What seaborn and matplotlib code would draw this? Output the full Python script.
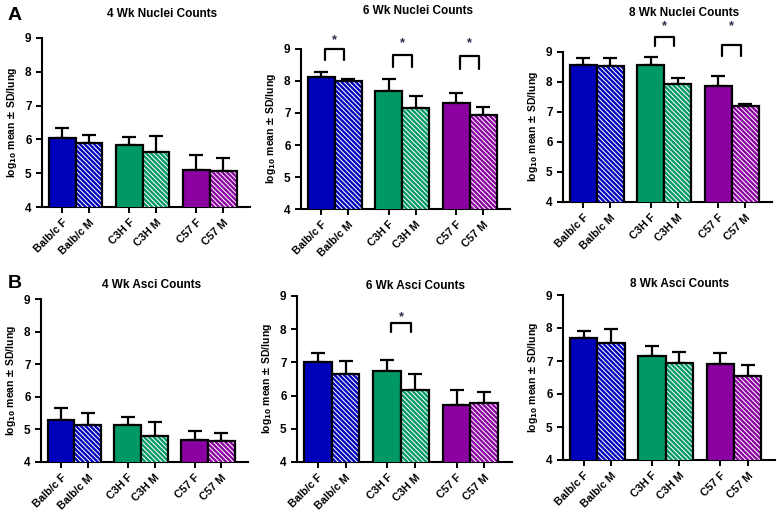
import numpy as np
import pandas as pd
import matplotlib
matplotlib.use("Agg")
import matplotlib.pyplot as plt
import matplotlib.colors as mcolors
import seaborn as sns

# groups / x layout
labels = ["Balb/c F", "Balb/c M", "C3H F", "C3H M", "C57 F", "C57 M"]
positions = [0, 1, 2.5, 3.5, 5, 6]
bar_colors = ["#0000BB", "#0000BB", "#009966", "#009966", "#8A00A0", "#8A00A0"]

# log10 mean and SD per panel
nuc4_mean = [6.04, 5.89, 5.84, 5.62, 5.08, 5.07]
nuc4_sd = [0.30, 0.25, 0.22, 0.47, 0.45, 0.38]
nuc6_mean = [8.14, 8.00, 7.70, 7.15, 7.31, 6.93]
nuc6_sd = [0.14, 0.07, 0.36, 0.39, 0.33, 0.26]
nuc8_mean = [8.58, 8.52, 8.58, 7.94, 7.86, 7.19]
nuc8_sd = [0.22, 0.28, 0.25, 0.19, 0.33, 0.09]
asci4_mean = [5.28, 5.14, 5.14, 4.81, 4.68, 4.65]
asci4_sd = [0.37, 0.36, 0.24, 0.43, 0.27, 0.24]
asci6_mean = [7.02, 6.64, 6.74, 6.16, 5.73, 5.78]
asci6_sd = [0.27, 0.40, 0.33, 0.48, 0.45, 0.32]
asci8_mean = [7.69, 7.56, 7.15, 6.93, 6.90, 6.55]
asci8_sd = [0.23, 0.41, 0.30, 0.35, 0.33, 0.33]

# significance brackets: (pair index, bracket top, leg bottom, star y)
nuc6_sig = [(0, 9.01, 8.67, 9.27), (1, 8.82, 8.44, 9.19), (2, 8.77, 8.37, 9.19)]
nuc8_sig = [(1, 9.50, 9.19, 9.86), (2, 9.24, 8.86, 9.86)]
asci6_sig = [(1, 8.20, 7.92, 8.37)]

W, H = 777, 518
sns.set_style("ticks")
plt.rcParams["font.family"] = ["Liberation Sans", "DejaVu Sans"]
plt.rcParams["font.weight"] = "bold"
plt.rcParams["axes.labelweight"] = "bold"
plt.rcParams["hatch.linewidth"] = 0.75
plt.rcParams["mathtext.default"] = "bf"
for k in ["text.color", "axes.labelcolor", "xtick.color", "ytick.color", "axes.edgecolor"]:
    plt.rcParams[k] = "black"

fig = plt.figure(figsize=(W / 100, H / 100), dpi=100)

# panel boxes in pixels: left, right, top, bottom, title center x, title y
panels = [
    ("4 Wk Nuclei Counts", nuc4_mean, nuc4_sd, [], (42, 250, 38, 207), (162, 14)),
    ("6 Wk Nuclei Counts", nuc6_mean, nuc6_sd, nuc6_sig, (301, 510, 49, 209), (418, 11)),
    ("8 Wk Nuclei Counts", nuc8_mean, nuc8_sd, nuc8_sig, (563, 772, 52, 202), (684, 13)),
    ("4 Wk Asci Counts", asci4_mean, asci4_sd, [], (41, 248, 299, 462), (152, 285)),
    ("6 Wk Asci Counts", asci6_mean, asci6_sd, asci6_sig, (297, 512, 296, 462), (415, 286)),
    ("8 Wk Asci Counts", asci8_mean, asci8_sd, [], (563, 775, 295, 460), (680, 284)),
]

for title, means, sds, sigs, box, tpos in panels:
    l, r, t, b = box
    ax = fig.add_axes([l / W, 1 - b / H, (r - l) / W, (b - t) / H])
    df = pd.DataFrame({"pos": positions, "mean": means, "group": labels})
    sns.barplot(data=df, x="pos", y="mean", hue="group", hue_order=labels,
                palette=dict(zip(labels, bar_colors)), native_scale=True,
                dodge=False, width=1.0, errorbar=None, legend=False, saturation=1,
                edgecolor="black", linewidth=1.6, ax=ax, zorder=3)
    for lab, p in zip(labels, ax.patches):
        if lab.endswith("M"):
            p.set_hatch("\\" * 7)
            p._hatch_color = mcolors.to_rgba("white")
    ax.errorbar(positions, means, yerr=[np.zeros(len(sds)), sds], fmt="none",
                ecolor="black", elinewidth=1.6, capsize=5, capthick=1.6, zorder=2)
    for i, top, leg, star in sigs:
        x0 = positions[2 * i] + 0.15
        x1 = positions[2 * i] + 0.85
        ax.plot([x0, x0, x1, x1], [leg, top, top, leg], color="black",
                lw=1.6, clip_on=False, zorder=4)
        ax.text((x0 + x1) / 2, star, "*", ha="center", va="center",
                fontsize=9, color="#2a2a4a", clip_on=False)
    ax.set_xlim(-0.75, 7.0)
    ax.set_ylim(4, 9)
    ax.set_yticks([4, 5, 6, 7, 8, 9])
    ax.set_xticks(positions)
    ax.set_xticklabels(labels, rotation=45, ha="right", rotation_mode="anchor",
                       fontsize=7.8, fontweight="bold")
    ax.tick_params(axis="y", labelsize=8.5, width=1.4, length=4)
    ax.tick_params(axis="x", width=1.4, length=4)
    for s in ["left", "bottom"]:
        ax.spines[s].set_linewidth(1.5)
    sns.despine(ax=ax)
    ax.set_xlabel("")
    ax.set_ylabel(r"log$_{10}$ mean $\pm$ SD/lung", fontsize=7.5)
    fig.text(tpos[0] / W, 1 - tpos[1] / H, title, ha="center", va="center",
             fontsize=8.5, fontweight="bold")

fig.text(15 / W, 1 - 15 / H, "A", ha="center", va="center", fontsize=14, fontweight="bold")
fig.text(15 / W, 1 - 283 / H, "B", ha="center", va="center", fontsize=14, fontweight="bold")

fig.savefig("out.png", dpi=100)
